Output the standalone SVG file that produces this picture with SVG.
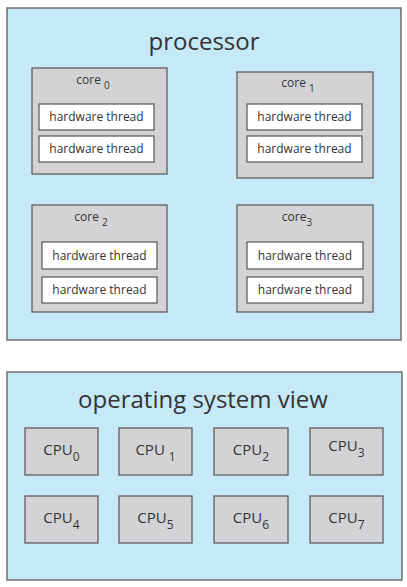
<svg xmlns="http://www.w3.org/2000/svg" width="407" height="587" viewBox="0 0 407 587">
<style>
.outer{fill:#c6e9f8;stroke:#5a5a5a;stroke-width:1.3}
.core{fill:#d3d3d5;stroke:#555;stroke-width:1.2}
.thr{fill:#fff;stroke:#555;stroke-width:1.2}
.cpu{fill:#d3d3d5;stroke:#555;stroke-width:1.2}
text{font-family:"Open Sans","Liberation Sans",sans-serif;fill:#333}
.title{font-size:24px;text-anchor:middle}
.tt{font-size:12px;text-anchor:middle}
.cl{font-size:12px;text-anchor:middle}
.cp{font-size:15px;text-anchor:middle}
.sub{font-size:10px}
.sub2{font-size:12px}
</style>
<rect width="407" height="587" fill="#fff"/>
<g id="processor">
<rect class="outer" x="7" y="8" width="394" height="332"/>
<text class="title" x="204" y="50">processor</text>
</g>
<g id="core0">
<rect class="core" x="32" y="68" width="135" height="106"/>
<text class="cl" x="93" y="84">core <tspan class="sub" dy="5">0</tspan></text>
<rect class="thr" x="39" y="104" width="115" height="26"/>
<text class="tt" x="96.5" y="121">hardware thread</text>
<rect class="thr" x="39" y="136" width="115" height="26"/>
<text class="tt" x="96.5" y="153">hardware thread</text>
</g>
<g id="core1">
<rect class="core" x="237" y="72" width="136" height="106"/>
<text class="cl" x="298" y="87">core <tspan class="sub" dy="5">1</tspan></text>
<rect class="thr" x="247" y="104" width="115" height="26"/>
<text class="tt" x="304.5" y="121">hardware thread</text>
<rect class="thr" x="247" y="136" width="115" height="26"/>
<text class="tt" x="304.5" y="153">hardware thread</text>
</g>
<g id="core2">
<rect class="core" x="32" y="205" width="135" height="107"/>
<text class="cl" x="91" y="221">core <tspan class="sub" dy="5">2</tspan></text>
<rect class="thr" x="42" y="242" width="115" height="27"/>
<text class="tt" x="99.5" y="260">hardware thread</text>
<rect class="thr" x="42" y="277" width="115" height="26"/>
<text class="tt" x="99.5" y="294">hardware thread</text>
</g>
<g id="core3">
<rect class="core" x="237" y="205" width="136" height="107"/>
<text class="cl" x="297" y="221">core<tspan class="sub" dy="5">3</tspan></text>
<rect class="thr" x="247" y="242" width="116" height="27"/>
<text class="tt" x="305" y="260">hardware thread</text>
<rect class="thr" x="247" y="277" width="116" height="26"/>
<text class="tt" x="305" y="294">hardware thread</text>
</g>
<g id="os">
<rect class="outer" x="7" y="372" width="395" height="208"/>
<text class="title" x="203" y="408">operating system view</text>
</g>
<g id="cpu0"><rect class="cpu" x="25" y="428" width="73" height="47"/><text class="cp" x="61.5" y="455">CPU<tspan class="sub2" dy="6">0</tspan></text></g>
<g id="cpu1"><rect class="cpu" x="119" y="428" width="73" height="47"/><text class="cp" x="155.5" y="455">CPU <tspan class="sub2" dy="6">1</tspan></text></g>
<g id="cpu2"><rect class="cpu" x="214" y="428" width="74" height="47"/><text class="cp" x="251" y="455">CPU<tspan class="sub2" dy="6">2</tspan></text></g>
<g id="cpu3"><rect class="cpu" x="310" y="428" width="73" height="47"/><text class="cp" x="346.5" y="451">CPU<tspan class="sub2" dy="6">3</tspan></text></g>
<g id="cpu4"><rect class="cpu" x="25" y="496" width="73" height="47"/><text class="cp" x="61.5" y="523">CPU<tspan class="sub2" dy="6">4</tspan></text></g>
<g id="cpu5"><rect class="cpu" x="119" y="496" width="73" height="47"/><text class="cp" x="155.5" y="523">CPU<tspan class="sub2" dy="6">5</tspan></text></g>
<g id="cpu6"><rect class="cpu" x="214" y="496" width="74" height="47"/><text class="cp" x="251" y="523">CPU<tspan class="sub2" dy="6">6</tspan></text></g>
<g id="cpu7"><rect class="cpu" x="310" y="496" width="73" height="47"/><text class="cp" x="346.5" y="523">CPU<tspan class="sub2" dy="6">7</tspan></text></g>
<g id="connectors"></g>
</svg>
